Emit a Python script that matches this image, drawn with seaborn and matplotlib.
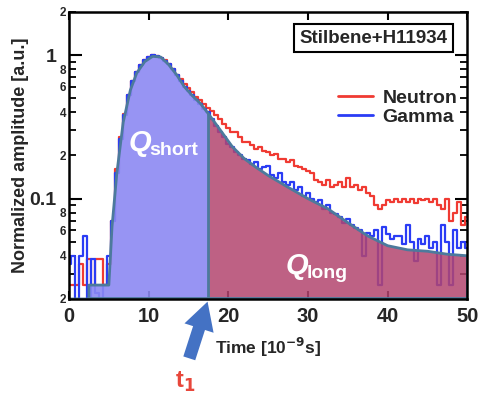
import numpy as np
import matplotlib.pyplot as plt
import seaborn as sns
from matplotlib.ticker import FixedLocator, FixedFormatter, NullLocator

# Data
time_ns = np.arange(0, 50.01, 0.5)

gamma = [0.035, 0.04, 0.02, 0.04, 0.055, 0.02, 0.038, 0.022, 0.02, 0.025,
         0.04, 0.07, 0.15, 0.26, 0.38, 0.53, 0.66, 0.76, 0.85, 0.92,
         0.97, 1.0, 0.99, 0.96, 0.91, 0.86, 0.80, 0.73, 0.66, 0.60,
         0.56, 0.53, 0.49, 0.46, 0.42, 0.40, 0.36, 0.32, 0.29, 0.27,
         0.24, 0.23, 0.21, 0.20, 0.19, 0.185, 0.175, 0.18, 0.16, 0.165,
         0.17, 0.145, 0.14, 0.15, 0.13, 0.125, 0.13, 0.115, 0.12, 0.105,
         0.11, 0.10, 0.095, 0.098, 0.085, 0.09, 0.08, 0.078, 0.075, 0.068,
         0.072, 0.065, 0.062, 0.06, 0.04, 0.058, 0.055, 0.06, 0.025, 0.063,
         0.057, 0.052, 0.055, 0.055, 0.048, 0.065, 0.05, 0.037, 0.052, 0.048,
         0.055, 0.045, 0.05, 0.025, 0.065, 0.05, 0.025, 0.06, 0.045, 0.05,
         0.045]

neutron = [0.025, 0.025, 0.025, 0.035, 0.025, 0.038, 0.025, 0.038, 0.038, 0.025,
           0.035, 0.07, 0.16, 0.27, 0.39, 0.53, 0.66, 0.76, 0.85, 0.92,
           0.97, 1.0, 0.99, 0.96, 0.92, 0.87, 0.80, 0.73, 0.68, 0.63,
           0.59, 0.55, 0.51, 0.49, 0.46, 0.43, 0.41, 0.38, 0.36, 0.33,
           0.31, 0.29, 0.29, 0.27, 0.25, 0.25, 0.235, 0.22, 0.23, 0.215,
           0.21, 0.20, 0.205, 0.19, 0.19, 0.18, 0.185, 0.17, 0.165, 0.16,
           0.155, 0.15, 0.135, 0.13, 0.125, 0.135, 0.12, 0.125, 0.13, 0.12,
           0.14, 0.12, 0.125, 0.115, 0.12, 0.11, 0.105, 0.09, 0.085, 0.09,
           0.098, 0.095, 0.10, 0.095, 0.10, 0.095, 0.10, 0.093, 0.10, 0.098,
           0.10, 0.095, 0.10, 0.09, 0.085, 0.10, 0.07, 0.08, 0.095, 0.065,
           0.075]

# smooth reference pulse (filled areas)
fit_t = [0, 2.5, 2.5, 5.0, 5.4, 6.0, 6.8, 7.7, 8.5, 9.5, 10.5, 11.5, 12.5, 13.5,
         14.5, 15.5, 16.5, 17.5, 19, 20.5, 22, 23.5, 25, 27.5, 30, 32.5, 35,
         37.5, 40, 42.5, 45, 47.5, 50]
fit_v = [0.02, 0.02, 0.025, 0.025, 0.064, 0.15, 0.34, 0.57, 0.75, 0.90, 0.98,
         0.97, 0.86, 0.73, 0.60, 0.52, 0.46, 0.39, 0.30, 0.23, 0.19, 0.165,
         0.145, 0.12, 0.10, 0.085, 0.068, 0.055, 0.047, 0.044, 0.043, 0.041, 0.040]
T1 = 17.5

sns.set_style("ticks")
plt.rcParams['font.family'] = ['Liberation Sans', 'DejaVu Sans']
plt.rcParams['font.weight'] = 'bold'
plt.rcParams['axes.labelweight'] = 'bold'
plt.rcParams['mathtext.default'] = 'bf'

fig = plt.figure(figsize=(4.81, 3.96), dpi=100)
ax = fig.add_axes([0.1435, 0.245, 0.828, 0.725])
ax.set_yscale('log')

sns.lineplot(x=time_ns, y=neutron, ax=ax, color='#f03a32', lw=1.6,
             drawstyle='steps-mid', label='Neutron')
sns.lineplot(x=time_ns, y=gamma, ax=ax, color='#2a3cf5', lw=1.6,
             drawstyle='steps-mid', label='Gamma')

# filled charge integrals drawn over the traces
k = fit_t.index(T1)
ax.fill_between(fit_t[:k + 1], 0.02, fit_v[:k + 1], color='#8c89f2', alpha=0.9,
                lw=0, zorder=3)
ax.fill_between(fit_t[k:], 0.02, fit_v[k:], color='#b3456f', alpha=0.85,
                lw=0, zorder=3)
edge = '#4c7a9c'
ax.plot(fit_t, fit_v, color=edge, lw=2, zorder=4)
ax.plot([T1, T1], [0.02, fit_v[k]], color=edge, lw=2, zorder=4)
ax.plot([fit_t[-1], fit_t[-1]], [0.02, fit_v[-1]], color=edge, lw=2, zorder=4)
ax.plot([fit_t[1], fit_t[-1]], [0.0202, 0.0202], color=edge, lw=2, zorder=4)

ax.set_xlim(0, 50)
ax.set_ylim(0.02, 2)
ax.set_xticks([0, 10, 20, 30, 40, 50])
ax.xaxis.set_minor_locator(NullLocator())
ax.yaxis.set_major_locator(FixedLocator([0.1, 1]))
ax.yaxis.set_major_formatter(FixedFormatter(['0.1', '1']))
minors = [0.02, 0.03, 0.04, 0.05, 0.06, 0.07, 0.08, 0.09,
          0.2, 0.3, 0.4, 0.5, 0.6, 0.7, 0.8, 0.9, 2]
mlabels = ['2', '', '4', '', '6', '', '8', '',
           '2', '', '4', '', '6', '', '8', '', '2']
ax.yaxis.set_minor_locator(FixedLocator(minors))
ax.yaxis.set_minor_formatter(FixedFormatter(mlabels))
ax.tick_params(which='both', direction='in', top=True, right=True, color='black')
ax.tick_params(axis='x', which='major', labelsize=14.5, length=6, width=1.5, pad=6)
ax.tick_params(axis='y', which='major', labelsize=14, length=9, width=1.5, pad=9)
ax.tick_params(axis='y', which='minor', labelsize=8.5, length=5, width=1.3, pad=2)
for s in ax.spines.values():
    s.set_linewidth(1.8)
    s.set_color('black')
    s.set_zorder(5)

ax.set_ylabel('Normalized amplitude [a.u.]', fontsize=13, labelpad=0)
ax.set_xlabel('Time [10$^{-9}$s]', fontsize=12.5, labelpad=7)

leg = ax.legend(loc='center right', bbox_to_anchor=(0.985, 0.667), frameon=False,
                fontsize=14, handlelength=1.8, handletextpad=0.5,
                labelspacing=0.05, borderaxespad=0.0, borderpad=0.2)
for line in leg.get_lines():
    line.set_linewidth(2)

ax.text(0.764, 0.909, 'Stilbene+H11934', transform=ax.transAxes, ha='center',
        va='center', fontsize=13.5,
        bbox=dict(boxstyle='square,pad=0.3', fc='white', ec='black', lw=1.5))

# charge labels
ax.text(8.9, 0.245, 'Q', color='white', fontsize=21, fontstyle='italic',
        ha='center', va='center', zorder=6)
ax.text(10.1, 0.215, 'short', color='white', fontsize=14, ha='left', va='center',
        zorder=6)
ax.text(28.6, 0.034, 'Q', color='white', fontsize=21, fontstyle='italic',
        ha='center', va='center', zorder=6)
ax.text(29.8, 0.030, 'long', color='white', fontsize=14, ha='left', va='center',
        zorder=6)

ax.annotate('', xy=(T1, 0.02), xytext=(-20, -62), textcoords='offset pixels',
            annotation_clip=False,
            arrowprops=dict(arrowstyle='simple,head_width=1.1,head_length=1.0,tail_width=0.45',
                            mutation_scale=20, color='#4472c4', lw=0))
fig.text(0.385, 0.035, 't$_1$', color='#e8473b', fontsize=17, ha='center', va='center')

fig.savefig('out.png', dpi=100)
